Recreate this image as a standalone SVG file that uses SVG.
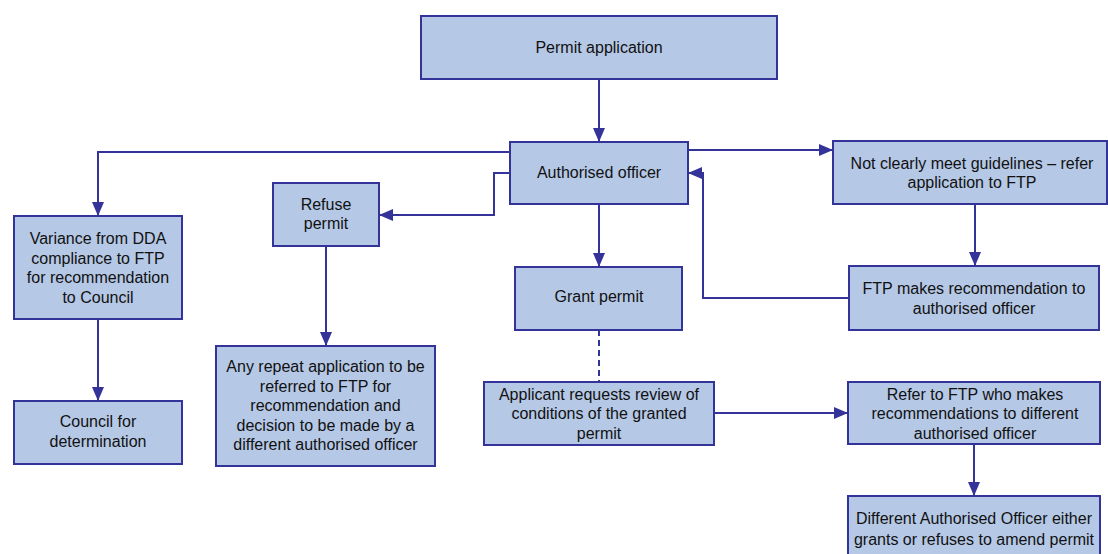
<svg xmlns="http://www.w3.org/2000/svg" width="1108" height="554" viewBox="0 0 1108 554">
<style>
.box{fill:#b5c8e6;stroke:#34339a;stroke-width:2}
.t{font-family:"Liberation Sans",Arial,sans-serif;font-size:16px;fill:#111;text-anchor:middle}
.c{fill:none;stroke:#34339a;stroke-width:2}
.d{fill:none;stroke:#34339a;stroke-width:2;stroke-dasharray:6 4}
</style>
<defs>
<marker id="ah" markerUnits="userSpaceOnUse" markerWidth="14" markerHeight="12" viewBox="0 0 14 12" refX="13" refY="6" orient="auto">
<path d="M0,0 L14,6 L0,12 Z" fill="#34339a"/>
</marker>
</defs>
<rect width="1108" height="554" fill="#fff"/>
<g id="connectors">
<path class="c" d="M599,79 V141" marker-end="url(#ah)"/>
<path class="c" d="M510,152 H98 V215" marker-end="url(#ah)"/>
<path class="c" d="M510,173 H494 V215 H380" marker-end="url(#ah)"/>
<path class="c" d="M688,150 H832" marker-end="url(#ah)"/>
<path class="c" d="M849,298 H703 V173 H689" marker-end="url(#ah)"/>
<path class="c" d="M975,204 V265" marker-end="url(#ah)"/>
<path class="c" d="M599,204 V266" marker-end="url(#ah)"/>
<path class="d" d="M599,330 V382"/>
<path class="c" d="M98,319 V400" marker-end="url(#ah)"/>
<path class="c" d="M326,246 V345" marker-end="url(#ah)"/>
<path class="c" d="M714,413 H847" marker-end="url(#ah)"/>
<path class="c" d="M974,444 V495" marker-end="url(#ah)"/>
</g>
<g id="permit-application">
<rect class="box" x="421" y="16" width="356" height="63"/>
<text class="t" x="599" y="53">Permit application</text>
</g>
<g id="authorised-officer">
<rect class="box" x="510" y="142" width="178" height="62"/>
<text class="t" x="599" y="178">Authorised officer</text>
</g>
<g id="variance">
<rect class="box" x="14" y="216" width="168" height="103"/>
<text class="t" x="98" y="244">Variance from DDA</text>
<text class="t" x="98" y="263.5">compliance to FTP</text>
<text class="t" x="98" y="283">for recommendation</text>
<text class="t" x="98" y="302.5">to Council</text>
</g>
<g id="refuse-permit">
<rect class="box" x="273" y="183" width="106" height="63"/>
<text class="t" x="326" y="209.5">Refuse</text>
<text class="t" x="326" y="229">permit</text>
</g>
<g id="not-clearly">
<rect class="box" x="833" y="141" width="274" height="63"/>
<text class="t" x="972" y="168.5">Not clearly meet guidelines – refer</text>
<text class="t" x="972" y="188">application to FTP</text>
</g>
<g id="ftp-recommendation">
<rect class="box" x="849" y="266" width="250" height="64"/>
<text class="t" x="974" y="293.5">FTP makes recommendation to</text>
<text class="t" x="974" y="313.5">authorised officer</text>
</g>
<g id="grant-permit">
<rect class="box" x="515" y="267" width="167" height="63"/>
<text class="t" x="599" y="302">Grant permit</text>
</g>
<g id="applicant-review">
<rect class="box" x="484" y="382" width="230" height="63"/>
<text class="t" x="599" y="399.5">Applicant requests review of</text>
<text class="t" x="599" y="418.5">conditions of the granted</text>
<text class="t" x="599" y="438.5">permit</text>
</g>
<g id="council">
<rect class="box" x="14" y="401" width="168" height="63"/>
<text class="t" x="98" y="426.5">Council for</text>
<text class="t" x="98" y="446.5">determination</text>
</g>
<g id="repeat-application">
<rect class="box" x="216" y="346" width="219" height="120"/>
<text class="t" x="325.5" y="371.5">Any repeat application to be</text>
<text class="t" x="325.5" y="391.5">referred to FTP for</text>
<text class="t" x="325.5" y="410.5">recommendation and</text>
<text class="t" x="325.5" y="430.5">decision to be made by a</text>
<text class="t" x="325.5" y="449.5">different authorised officer</text>
</g>
<g id="refer-ftp">
<rect class="box" x="848" y="382" width="252" height="62"/>
<text class="t" x="975" y="399.5">Refer to FTP who makes</text>
<text class="t" x="975" y="418.5">recommendations to different</text>
<text class="t" x="975" y="438.5">authorised officer</text>
</g>
<g id="different-officer">
<rect class="box" x="848" y="496" width="252" height="70"/>
<text class="t" x="974" y="523.5">Different Authorised Officer either</text>
<text class="t" x="974" y="544.5">grants or refuses to amend permit</text>
</g>
</svg>
